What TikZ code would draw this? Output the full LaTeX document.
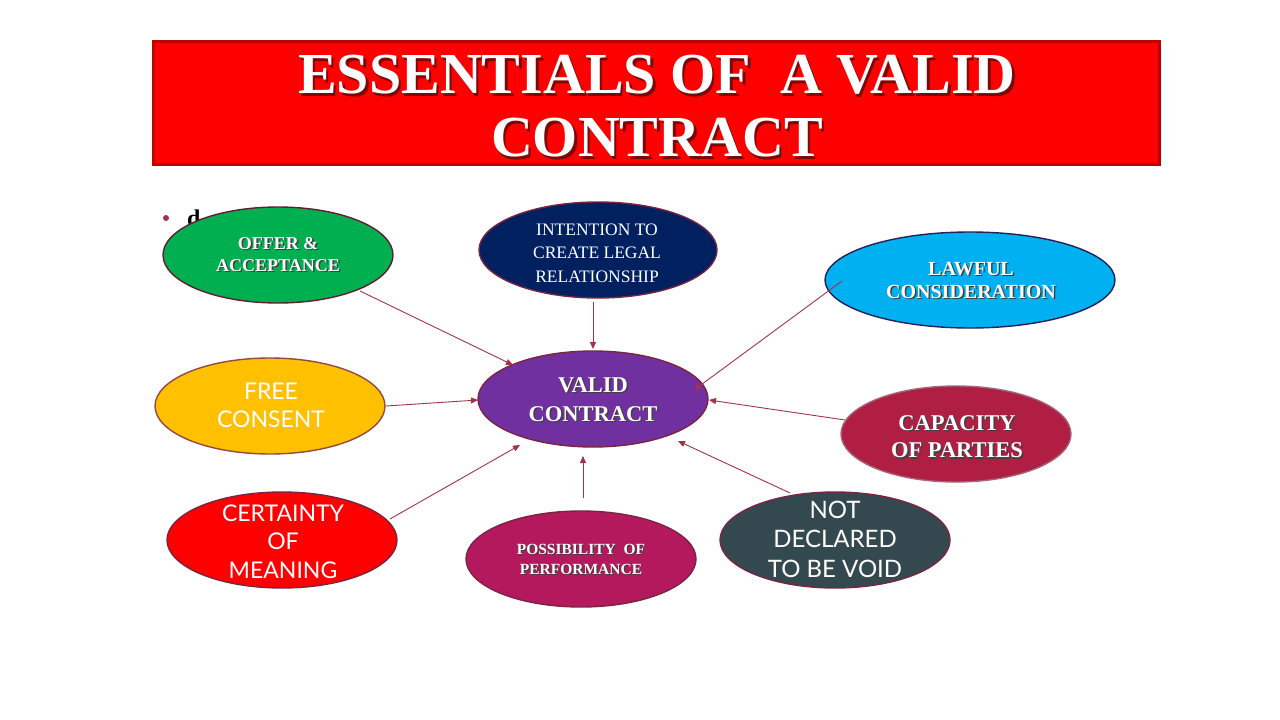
\documentclass[tikz,border=0pt]{standalone}
\usepackage{fontspec}
\setmainfont{Liberation Serif}
\newfontfamily\gillfont{Lato}
\usetikzlibrary{shapes.geometric,arrows.meta}
\definecolor{cGreen}{HTML}{00B050}
\definecolor{cNavy}{HTML}{002060}
\definecolor{cSky}{HTML}{00B0F0}
\definecolor{cAmber}{HTML}{FFC000}
\definecolor{cPurple}{HTML}{7030A0}
\definecolor{cCrimson}{HTML}{B01E44}
\definecolor{cRed}{HTML}{FF0000}
\definecolor{cMagenta}{HTML}{B4195E}
\definecolor{cSlate}{HTML}{34494F}
\definecolor{cBorder}{HTML}{7B2440}
\definecolor{cArrow}{HTML}{A3324F}
\definecolor{cTitleBorder}{HTML}{C00000}
\definecolor{shadowc}{HTML}{404040}
\definecolor{shadowt}{HTML}{7A0A0A}
\newcommand\shtxt[3][shadowc]{\makebox[0pt][l]{\raisebox{-#2}{\hspace*{#2}\color{#1}\begin{tabular}{@{}c@{}}#3\end{tabular}}}\begin{tabular}{@{}c@{}}#3\end{tabular}}
\newcommand\pltxt[1]{\begin{tabular}{@{}c@{}}#1\end{tabular}}
\begin{document}
\begin{tikzpicture}[x=1pt,y=-1pt,
  ell/.style={ellipse, draw=cBorder, line width=1.4pt, minimum width=230pt, minimum height=96pt, inner sep=0pt},
  wt/.style={text=white, inner sep=0pt},
  conn/.style={draw=cArrow, line width=0.9pt, -{Triangle[length=7pt,width=6pt]}}]
\useasboundingbox (0,0) rectangle (1280,720);
\fill[white] (0,0) rectangle (1280,720);

% title
\node[draw=cTitleBorder, line width=3pt, fill=cRed, minimum width=1006pt, minimum height=123pt, inner sep=0pt] (titlebox) at (656,102.5) {};
\node[wt, font=\fontsize{58}{63}\selectfont\bfseries] (title) at (657,114) {\shtxt[shadowt]{2.5pt}{ESSENTIALS OF~~A VALID\\CONTRACT}};

% stray bullet text
\node[circle, fill=cArrow, inner sep=0pt, minimum size=6pt] (bullet) at (166,218) {};
\node[font=\fontsize{24}{24}\selectfont\bfseries, anchor=base west, inner sep=0pt] (dletter) at (187,226) {d};

% ellipses
\node[ell, fill=cGreen, draw=cBorder!80!black] (offer) at (278,255) {};
\node[wt, font=\fontsize{18}{22}\selectfont\bfseries] (offert) at (278,256.5) {\shtxt{1.5pt}{OFFER \&\\ACCEPTANCE}};

\node[ell, fill=cNavy, minimum width=238pt] (intent) at (598,250) {};
\node[wt, font=\fontsize{17.5}{23.5}\selectfont] (intentt) at (597,254) {\pltxt{INTENTION TO\\CREATE LEGAL\\RELATIONSHIP}};

\node[ell, fill=cSky, draw=cNavy!70!cBorder, minimum width=290pt] (lawful) at (970,280) {};
\node[wt, font=\fontsize{20}{23}\selectfont\bfseries] (lawfult) at (971,283) {\shtxt{1.5pt}{LAWFUL\\CONSIDERATION}};

\node[ell, fill=cAmber, draw=cBorder!60!brown] (free) at (270,406) {};
\node[wt, font=\gillfont\fontsize{23}{28}\selectfont] (freet) at (271,407.5) {\pltxt{FREE\\CONSENT}};

\node[ell, fill=cPurple] (valid) at (593,399) {};
\node[wt, font=\fontsize{22.5}{29}\selectfont\bfseries] (validt) at (593,401.5) {\shtxt{1.5pt}{VALID\\CONTRACT}};

\node[ell, fill=cCrimson, draw=cBorder!70!white] (capacity) at (956,434) {};
\node[wt, font=\fontsize{22.5}{27.5}\selectfont\bfseries] (capacityt) at (957,439) {\shtxt{1.5pt}{CAPACITY\\OF PARTIES}};

\node[ell, fill=cRed] (certain) at (282,540) {};
\node[wt, font=\gillfont\fontsize{23}{28.5}\selectfont] (certaint) at (283,544) {\pltxt{CERTAINTY\\OF\\MEANING}};

\node[ell, fill=cMagenta] (possible) at (581,559) {};
\node[wt, font=\fontsize{15.5}{20}\selectfont\bfseries] (possiblet) at (581,561) {\shtxt{1.2pt}{POSSIBILITY~~OF\\PERFORMANCE}};

\node[ell, fill=cSlate] (notvoid) at (835,540) {};
\node[wt, font=\gillfont\fontsize{24}{29.5}\selectfont] (notvoidt) at (835,542) {\pltxt{NOT\\DECLARED\\TO BE VOID}};

% connector end points
\coordinate (a1s) at (360,291); \coordinate (a1e) at (513,365);
\coordinate (a2s) at (593,302); \coordinate (a2e) at (593,349);
\coordinate (a3s) at (842,281); \coordinate (a3e) at (694,390);
\coordinate (a4s) at (386,406); \coordinate (a4e) at (478,400);
\coordinate (a5s) at (845,420); \coordinate (a5e) at (709,400);
\coordinate (a6s) at (390,519); \coordinate (a6e) at (520,445);
\coordinate (a7s) at (583,498); \coordinate (a7e) at (583,456);
\coordinate (a8s) at (790,493); \coordinate (a8e) at (678,441);

\draw[conn] (a1s) -- (a1e);
\draw[conn] (a2s) -- (a2e);
\draw[conn] (a3s) -- (a3e);
\draw[conn] (a4s) -- (a4e);
\draw[conn] (a5s) -- (a5e);
\draw[conn] (a6s) -- (a6e);
\draw[conn] (a7s) -- (a7e);
\draw[conn] (a8s) -- (a8e);
\end{tikzpicture}
\end{document}
